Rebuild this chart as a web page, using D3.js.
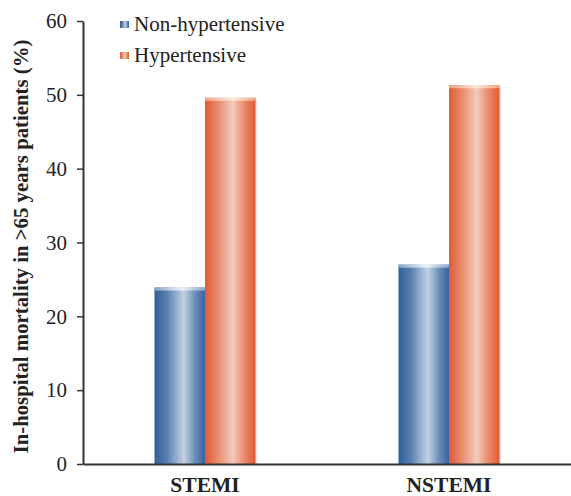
<!DOCTYPE html>
<html><head><meta charset="utf-8">
<script src="https://cdn.jsdelivr.net/npm/d3@7/dist/d3.min.js"></script>
<style>body{margin:0;background:#fff}svg{display:block}
svg text{font-family:"Liberation Serif","DejaVu Serif",serif;}</style>
</head><body>
<script>
const categories = ["STEMI", "NSTEMI"];
const seriesNames = ["Non-hypertensive", "Hypertensive"];
const nonHypertensive = [23.9, 27.0];
const hypertensive = [49.6, 51.3];
const yTicks = [0, 10, 20, 30, 40, 50, 60];
const yLabel = "In-hospital mortality in >65 years patients (%)";

const W = 571, H = 496;
const svg = d3.select("body").append("svg").attr("width", W).attr("height", H);

const x0 = 83, yBottom = 464, yTop = 21;
const y = d3.scaleLinear().domain([0, 60]).range([yBottom, yTop]);
const xb = d3.scaleBand().domain(categories).range([x0, W]).paddingInner(0.586).paddingOuter(0.293);
const xs = d3.scaleBand().domain(seriesNames).range([0, xb.bandwidth()]);

const defs = svg.append("defs");
function grad(id, stops) {
  const g = defs.append("linearGradient").attr("id", id).attr("x1", "0").attr("x2", "1").attr("y1", "0").attr("y2", "0");
  stops.forEach(s => g.append("stop").attr("offset", s[0]).attr("stop-color", s[1]));
}
grad("gBlue", [[0, "#315f98"], [0.25, "#5a80b2"], [0.58, "#c3d1e2"], [0.8, "#6d8fbb"], [1, "#36649c"]]);
grad("gOrange", [[0, "#e15a35"], [0.25, "#e98a6c"], [0.55, "#f3cbbd"], [0.8, "#eb8563"], [1, "#e25b34"]]);
grad("gBlueTop", [[0, "#8aa6c8"], [0.55, "#eef3f8"], [1, "#8aa6c8"]]);
grad("gOrangeTop", [[0, "#f0a386"], [0.55, "#fbeadf"], [1, "#f0a386"]]);
const fills = {"Non-hypertensive": ["url(#gBlue)", "url(#gBlueTop)"], "Hypertensive": ["url(#gOrange)", "url(#gOrangeTop)"]};

const data = categories.map((c, i) => ({cat: c, vals: [
  {s: seriesNames[0], v: nonHypertensive[i]},
  {s: seriesNames[1], v: hypertensive[i]}
]}));

const groups = svg.selectAll("g.grp").data(data).join("g")
  .attr("transform", d => `translate(${xb(d.cat)},0)`);
groups.selectAll("rect.sh").data(d => d.vals).join("rect")
  .attr("x", d => xs(d.s) + 2).attr("y", d => y(d.v) + 2)
  .attr("width", xs.bandwidth()).attr("height", d => yBottom - y(d.v) - 2)
  .attr("fill", "#e6e6e6");
groups.selectAll("rect.bar").data(d => d.vals).join("rect")
  .attr("x", d => xs(d.s)).attr("y", d => y(d.v))
  .attr("width", xs.bandwidth()).attr("height", d => yBottom - y(d.v))
  .attr("fill", d => fills[d.s][0]);
groups.selectAll("rect.cap").data(d => d.vals).join("rect")
  .attr("x", d => xs(d.s)).attr("y", d => y(d.v))
  .attr("width", xs.bandwidth()).attr("height", 3)
  .attr("fill", d => fills[d.s][1]);

const yAxis = svg.append("g").attr("transform", `translate(${x0},0)`)
  .call(d3.axisLeft(y).tickValues(yTicks).tickSize(6).tickPadding(10).tickSizeOuter(0));
yAxis.attr("font-family", null);
yAxis.select(".domain").attr("stroke", "#333").attr("stroke-width", 2);
yAxis.selectAll(".tick line").attr("stroke", "#333").attr("stroke-width", 1.5);
yAxis.selectAll(".tick text").attr("font-size", 21).attr("fill", "#222");

const xAxis = svg.append("g").attr("transform", `translate(0,${yBottom})`)
  .call(d3.axisBottom(xb).tickSize(0).tickPadding(13));
xAxis.attr("font-family", null);
xAxis.select(".domain").attr("stroke", "#333").attr("stroke-width", 2);
xAxis.selectAll(".tick text").attr("font-size", 21.5).attr("font-weight", "bold").attr("fill", "#222");

svg.append("text").attr("transform", `translate(28,${(yTop + yBottom) / 2 + 4}) rotate(-90)`)
  .attr("text-anchor", "middle").attr("font-size", 20.8).attr("font-weight", "bold")
  .attr("fill", "#222").text(yLabel);

const lg = svg.append("g");
seriesNames.forEach((s, i) => {
  const yy = 31 + i * 31;
  lg.append("rect").attr("x", 120).attr("y", yy - 10).attr("width", 9).attr("height", 7)
    .attr("fill", i === 0 ? "url(#gBlue)" : "url(#gOrange)");
  lg.append("text").attr("x", 134).attr("y", yy).attr("font-size", 21)
    .attr("fill", "#222").text(s);
});
</script>
</body></html>
